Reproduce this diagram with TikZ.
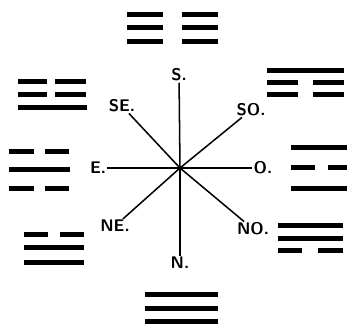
\documentclass[tikz,border=0pt]{standalone}
\usepackage{tikz}
\usetikzlibrary{positioning}

\begin{document}
\begin{tikzpicture}[x=0.03cm, y=-0.03cm,
  bar/.style={line width=0.15cm},
  axis/.style={line width=1.3pt, shorten >=0.5pt},
  dirlabel/.style={font=\sffamily\bfseries\Large, inner sep=0.5pt}]
\useasboundingbox (0,0) rectangle (347,324);
% centre of the rose and the direction labels
\coordinate (c) at (180,168);
\node[dirlabel] (s) at (179,75) {S.};
\node[dirlabel] (se) at (122,106) {SE.};
\node[dirlabel] (so) at (251,110) {SO.};
\node[dirlabel] (e) at (98,168) {E.};
\node[dirlabel] (o) at (263,168) {O.};
\node[dirlabel] (ne) at (115,226) {NE.};
\node[dirlabel] (no) at (253,229) {NO.};
\node[dirlabel] (n) at (180,263) {N.};
\foreach \d in {s,se,so,e,o,ne,no,n}
  \draw[axis] (c) -- (\d);
% trigrams: whole lines
\foreach \xa/\xb/\y in {18/87/107, 267/344/70, 9/70/169, 291/347/147, 291/347/188,
    24/84/247, 24/84/262, 278/343/225, 278/343/238, 145/218/294, 145/218/308, 145/218/321}
  \draw[bar] (\xa,\y) -- (\xb,\y);
% trigrams: broken lines
\foreach \xa/\xb/\xc/\xd/\y in {127/163/182/218/14, 127/163/182/218/27, 127/163/182/218/41,
    18/47/55/86/81, 18/47/55/86/94, 267/298/313/344/82, 267/298/313/344/94,
    9/34/45/69/151, 9/34/45/69/188, 291/315/328/347/167,
    24/48/60/84/234, 278/302/318/343/250}
  \draw[bar] (\xa,\y) -- (\xb,\y) (\xc,\y) -- (\xd,\y);
\end{tikzpicture}
\end{document}
